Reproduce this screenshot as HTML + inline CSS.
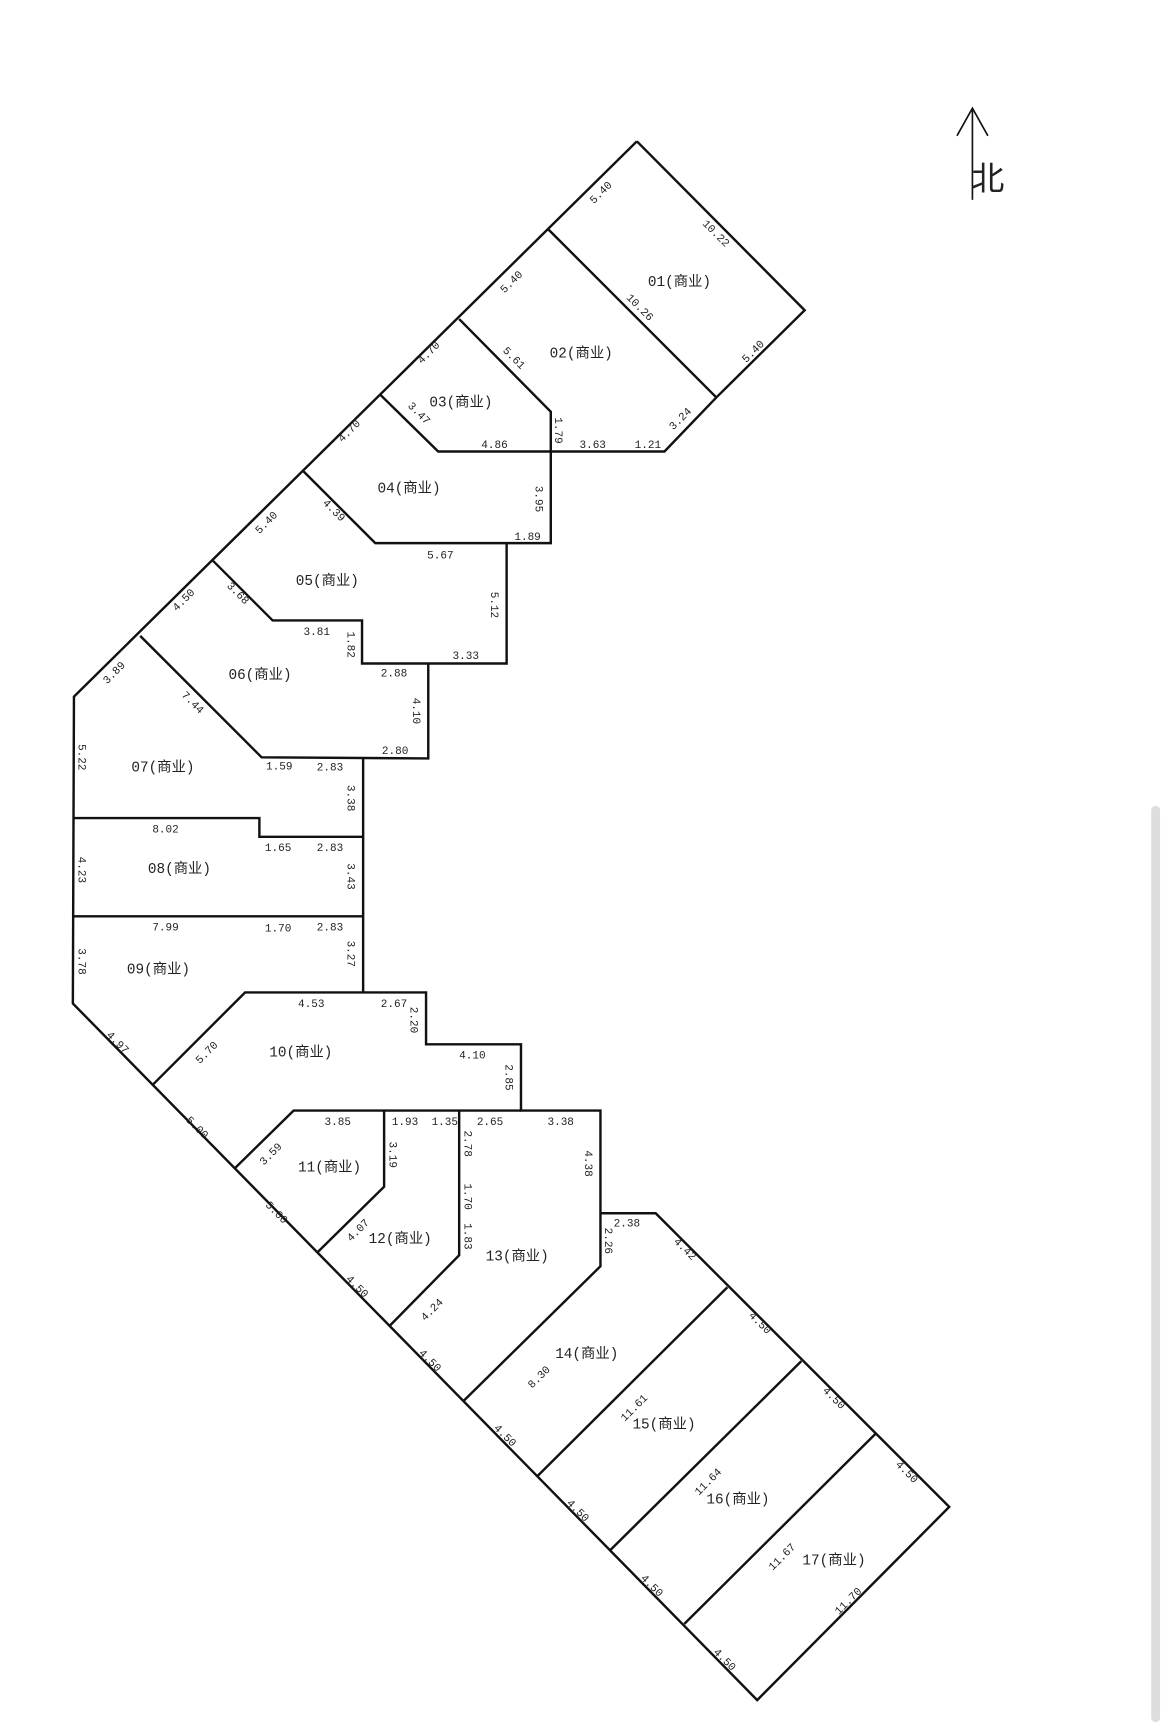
<!DOCTYPE html>
<html><head><meta charset="utf-8"><style>
html,body{margin:0;padding:0;background:#fff;}
svg{display:block}
text{font-family:"Liberation Mono","Noto Sans CJK SC",monospace;fill:#222;}
.d{font-size:10px}
.r{font-size:13px}
</style></head><body>
<svg width="1170" height="1731" viewBox="0 0 1060 1568" preserveAspectRatio="none" xmlns="http://www.w3.org/2000/svg">
<rect x="1043" y="730" width="8" height="830" rx="4" fill="#ddd"/>
<g fill="none" stroke="#111" stroke-width="2.2" stroke-linejoin="miter">
<polyline points="577,128 729,281 649,360 602,409 397,409 345,358"/>
<polyline points="577,128 67,631 66,909 686,1540 860,1365 594,1099 544,1099"/>
<line x1="497" y1="208" x2="649" y2="360"/>
<polyline points="416,289 499,373 499,492 340,492 275,427"/>
<polyline points="459,492 459,601 328,601 328,562 247,562 193,508"/>
<polyline points="388,601 388,687 237,686 127,576"/>
<polyline points="329,687 329,899"/>
<polyline points="66,741 235,741 235,758 329,758"/>
<polyline points="66,830 329,830"/>
<polyline points="138,983 222,899 386,899 386,946 472,946 472,1006 544,1006 544,1147 420,1269"/>
<polyline points="213,1058 266,1006 472,1006"/>
<polyline points="288,1134 348,1075 348,1006"/>
<polyline points="353,1201 416,1137 416,1006"/>
<line x1="487" y1="1337" x2="659" y2="1166"/>
<line x1="553" y1="1404" x2="726" y2="1233"/>
<line x1="620" y1="1471" x2="793" y2="1299"/>
<line x1="881" y1="98" x2="881" y2="181" stroke-width="1.5"/>
<polyline points="867,123 881,98 895,123" stroke-width="1.5"/>
</g>
<text x="880" y="172" style="font-size:30px">北</text>
<g class="r">
<text x="587" y="259">01(商业)</text>
<text x="498" y="324">02(商业)</text>
<text x="389" y="368">03(商业)</text>
<text x="342" y="446">04(商业)</text>
<text x="268" y="530">05(商业)</text>
<text x="207" y="615">06(商业)</text>
<text x="119" y="699">07(商业)</text>
<text x="134" y="791">08(商业)</text>
<text x="115" y="882">09(商业)</text>
<text x="244" y="957">10(商业)</text>
<text x="270" y="1061">11(商业)</text>
<text x="334" y="1126">12(商业)</text>
<text x="440" y="1142">13(商业)</text>
<text x="503" y="1230">14(商业)</text>
<text x="573" y="1294">15(商业)</text>
<text x="640" y="1362">16(商业)</text>
<text x="727" y="1417">17(商业)</text>
</g>
<g class="d">
<text x="436" y="406">4.86</text><text x="525" y="406">3.63</text><text x="575" y="406">1.21</text>
<text x="387" y="506">5.67</text><text x="466" y="489">1.89</text>
<text x="275" y="575">3.81</text><text x="345" y="613">2.88</text><text x="410" y="597">3.33</text>
<text x="346" y="683">2.80</text><text x="241" y="697">1.59</text><text x="287" y="698">2.83</text>
<text x="138" y="754">8.02</text><text x="240" y="771">1.65</text><text x="287" y="771">2.83</text>
<text x="138" y="843">7.99</text><text x="240" y="844">1.70</text><text x="287" y="843">2.83</text>
<text x="270" y="912">4.53</text><text x="345" y="912">2.67</text><text x="416" y="959">4.10</text>
<text x="294" y="1019">3.85</text><text x="355" y="1019">1.93</text><text x="391" y="1019">1.35</text>
<text x="432" y="1019">2.65</text><text x="496" y="1019">3.38</text><text x="556" y="1111">2.38</text>
</g>
<g class="d">
<text transform="translate(503,378) rotate(90)">1.79</text>
<text transform="translate(485,440) rotate(90)">3.95</text>
<text transform="translate(445,536) rotate(90)">5.12</text>
<text transform="translate(315,572) rotate(90)">1.82</text>
<text transform="translate(374,632) rotate(90)">4.10</text>
<text transform="translate(315,711) rotate(90)">3.38</text>
<text transform="translate(71,674) rotate(90)">5.22</text>
<text transform="translate(71,776) rotate(90)">4.23</text>
<text transform="translate(315,782) rotate(90)">3.43</text>
<text transform="translate(71,859) rotate(90)">3.78</text>
<text transform="translate(315,852) rotate(90)">3.27</text>
<text transform="translate(372,912) rotate(90)">2.20</text>
<text transform="translate(458,964) rotate(90)">2.85</text>
<text transform="translate(353,1034) rotate(90)">3.19</text>
<text transform="translate(421,1024) rotate(90)">2.78</text>
<text transform="translate(421,1072) rotate(90)">1.70</text>
<text transform="translate(421,1108) rotate(90)">1.83</text>
<text transform="translate(530,1042) rotate(90)">4.38</text>
<text transform="translate(548,1112) rotate(90)">2.26</text>
<text transform="translate(538,185) rotate(-45)">5.40</text>
<text transform="translate(457,266) rotate(-45)">5.40</text>
<text transform="translate(382,330) rotate(-45)">4.70</text>
<text transform="translate(310,401) rotate(-45)">4.70</text>
<text transform="translate(235,484) rotate(-45)">5.40</text>
<text transform="translate(160,554) rotate(-45)">4.50</text>
<text transform="translate(97,620) rotate(-45)">3.89</text>
<text transform="translate(676,329) rotate(-45)">5.40</text>
<text transform="translate(610,390) rotate(-45)">3.24</text>
<text transform="translate(181,964) rotate(-45)">5.70</text>
<text transform="translate(239,1056) rotate(-45)">3.59</text>
<text transform="translate(318,1125) rotate(-45)">4.07</text>
<text transform="translate(385,1197) rotate(-45)">4.24</text>
<text transform="translate(482,1258) rotate(-45)">8.30</text>
<text transform="translate(566,1288) rotate(-45)">11.61</text>
<text transform="translate(633,1355) rotate(-45)">11.64</text>
<text transform="translate(700,1423) rotate(-45)">11.67</text>
<text transform="translate(760,1463) rotate(-45)">11.70</text>
<text transform="translate(636,203) rotate(45)">10.22</text>
<text transform="translate(567,270) rotate(45)">10.26</text>
<text transform="translate(455,318) rotate(45)">5.61</text>
<text transform="translate(369,368) rotate(45)">3.47</text>
<text transform="translate(292,456) rotate(45)">4.39</text>
<text transform="translate(205,531) rotate(45)">3.68</text>
<text transform="translate(164,630) rotate(45)">7.44</text>
<text transform="translate(96,938) rotate(45)">4.97</text>
<text transform="translate(168,1015) rotate(45)">5.00</text>
<text transform="translate(240,1092) rotate(45)">5.00</text>
<text transform="translate(313,1159) rotate(45)">4.50</text>
<text transform="translate(379,1226) rotate(45)">4.50</text>
<text transform="translate(447,1294) rotate(45)">4.50</text>
<text transform="translate(513,1362) rotate(45)">4.50</text>
<text transform="translate(580,1430) rotate(45)">4.50</text>
<text transform="translate(646,1497) rotate(45)">4.50</text>
<text transform="translate(610,1125) rotate(45)">4.42</text>
<text transform="translate(678,1192) rotate(45)">4.50</text>
<text transform="translate(745,1260) rotate(45)">4.50</text>
<text transform="translate(811,1327) rotate(45)">4.50</text>
</g>
</svg>
</body></html>
